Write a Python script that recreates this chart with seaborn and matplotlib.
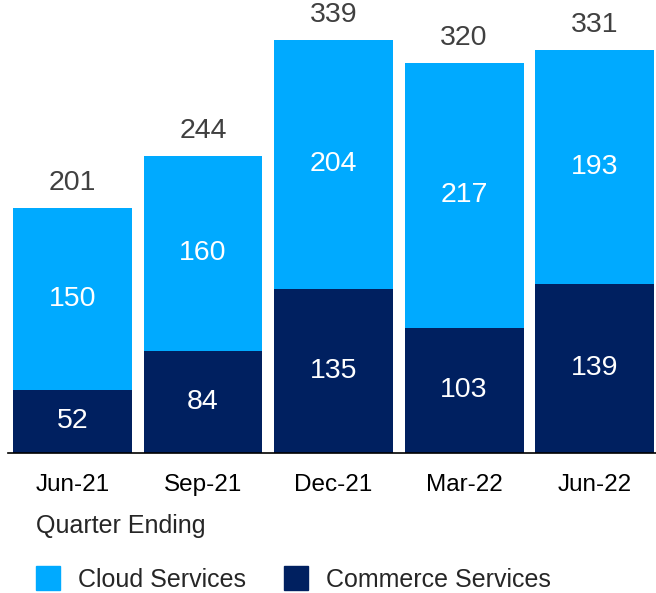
import numpy as np
import pandas as pd
import matplotlib
matplotlib.use("Agg")
import matplotlib.pyplot as plt
import seaborn as sns
from matplotlib.lines import Line2D

quarters = ["Jun-21", "Sep-21", "Dec-21", "Mar-22", "Jun-22"]
cloud = [150, 160, 204, 217, 193]
commerce = [52, 84, 135, 103, 139]
totals = [201, 244, 339, 320, 331]

cloud_color = "#00AAFF"
commerce_color = "#002060"

df = pd.DataFrame({"Quarter": quarters, "Cloud": cloud, "Commerce": commerce, "Total": totals})

sns.set_style("white")
plt.rcParams["font.family"] = ["Liberation Sans", "DejaVu Sans"]

fig = plt.figure(figsize=(6.56, 5.93), dpi=100)
ax = fig.add_axes([8 / 656, 140 / 593, 648 / 656, 453 / 593])

# totals drawn in light blue, commerce stacked on top of it from the baseline
sns.barplot(data=df, x="Quarter", y="Total", color=cloud_color, width=0.91,
            saturation=1, ax=ax, edgecolor="none")
sns.barplot(data=df, x="Quarter", y="Commerce", color=commerce_color, width=0.91,
            saturation=1, ax=ax, edgecolor="none")

for i, row in df.iterrows():
    ax.annotate(str(row["Total"]), (i, row["Total"]), xytext=(0, 18), textcoords="offset points",
                ha="center", va="center", fontsize=20.5, color="#404040")
    ax.text(i, row["Commerce"] + (row["Total"] - row["Commerce"]) / 2, str(row["Cloud"]),
            ha="center", va="center", fontsize=20.5, color="white")
    ax.text(i, row["Commerce"] / 2, str(row["Commerce"]),
            ha="center", va="center", fontsize=20.5, color="white")

ax.set_xlim(-0.494, 4.47)
ax.set_ylim(0, 371.9)
ax.set_yticks([])
ax.set_xlabel("")
ax.set_ylabel("")
for s in ["top", "left", "right"]:
    ax.spines[s].set_visible(False)
ax.spines["bottom"].set_color("#000000")
ax.spines["bottom"].set_linewidth(1.2)
ax.tick_params(axis="x", length=0, pad=15, labelsize=17.5, labelcolor="black")

fig.text(36 / 656, 1 - 526 / 593, "Quarter Ending", ha="left", va="center", fontsize=18)

handles = [Line2D([], [], marker="s", linestyle="none", markersize=17.3, color=cloud_color, label="Cloud Services"),
           Line2D([], [], marker="s", linestyle="none", markersize=17.3, color=commerce_color, label="Commerce Services")]
fig.legend(handles=handles, ncol=2, loc="center left", bbox_to_anchor=(35.5 / 656, 1 - 580 / 593),
           frameon=False, fontsize=18, handlelength=1.0, handletextpad=0.68, columnspacing=1.52,
           borderpad=0, borderaxespad=0)

fig.savefig("out.png", dpi=100)
